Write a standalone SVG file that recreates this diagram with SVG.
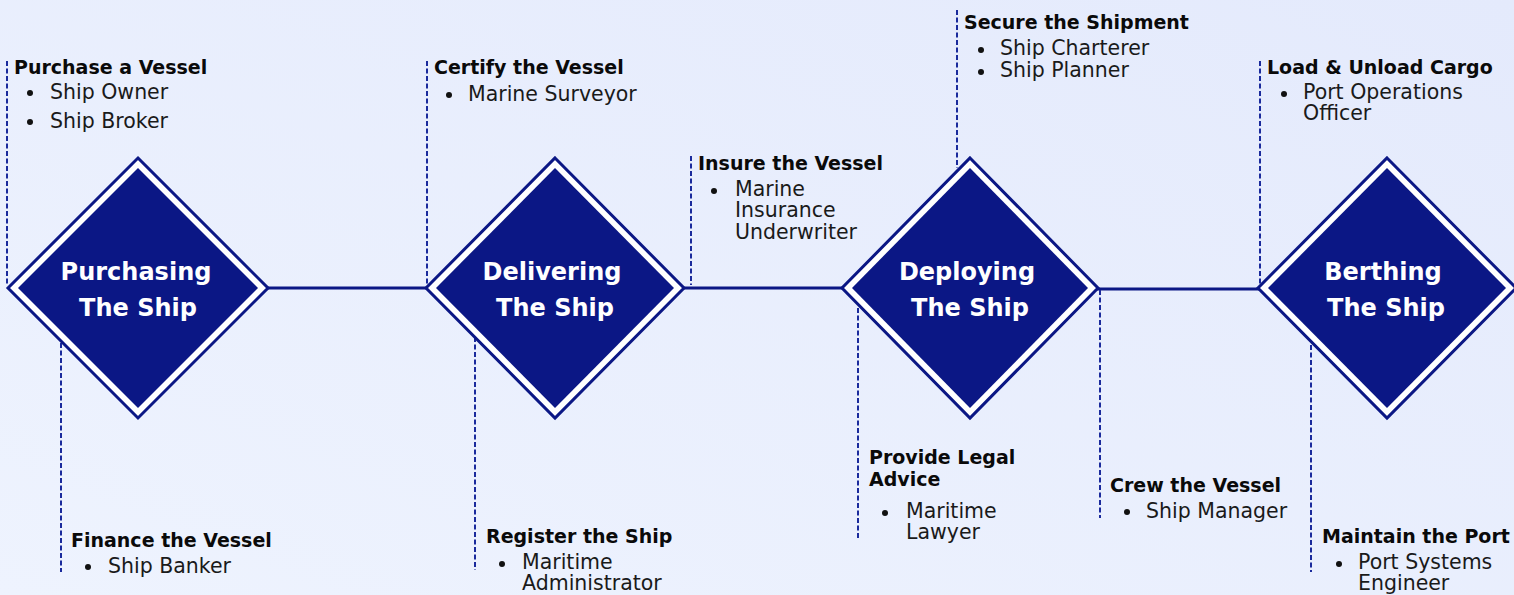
<svg xmlns="http://www.w3.org/2000/svg" width="1514" height="595" viewBox="0 0 1514 595">
<defs>
<linearGradient id="bg" x1="0" y1="1" x2="1" y2="0">
<stop offset="0" stop-color="#eef3fe"/>
<stop offset="1" stop-color="#e4eafc"/>
</linearGradient>
<style>
.outer{fill:#ffffff;stroke:#0b1785;stroke-width:3}
.inner{fill:#0b1785}
.lbl{font-family:"DejaVu Sans","Liberation Sans",sans-serif;font-weight:700;font-size:24px;fill:#ffffff;text-anchor:middle}
.h{font-family:"DejaVu Sans","Liberation Sans",sans-serif;font-weight:700;font-size:19px;fill:#0a0a0a}
.b{font-family:"DejaVu Sans","Liberation Sans",sans-serif;font-size:20.5px;fill:#1a1a1a}
.dash{stroke:#1a2a9c;stroke-width:2;stroke-dasharray:5 2.5;fill:none}
.link{stroke:#0b1785;stroke-width:3;fill:none}
.dot{fill:#111111}
</style>
</defs>
<rect width="1514" height="595" fill="url(#bg)"/>
<g id="connectors">
<line class="link" x1="266" y1="288" x2="428" y2="288"/>
<line class="link" x1="682" y1="288" x2="844" y2="288"/>
<line class="link" x1="1096" y1="289" x2="1259" y2="289"/>
<line class="dash" x1="7" y1="61" x2="7" y2="285"/>
<line class="dash" x1="61" y1="343" x2="61" y2="572"/>
<line class="dash" x1="427" y1="61" x2="427" y2="285"/>
<line class="dash" x1="475" y1="337" x2="475" y2="570"/>
<line class="dash" x1="691" y1="156" x2="691" y2="285"/>
<line class="dash" x1="858" y1="308" x2="858" y2="538"/>
<line class="dash" x1="957" y1="10" x2="957" y2="168"/>
<line class="dash" x1="1100" y1="290" x2="1100" y2="518"/>
<line class="dash" x1="1260" y1="61" x2="1260" y2="285"/>
<line class="dash" x1="1311" y1="345" x2="1311" y2="572"/>
</g>
<g id="purchasing">
<polygon class="outer" points="138,158 268,288 138,418 8,288"/>
<polygon class="inner" points="138,168 258,288 138,408 18,288"/>
<text class="lbl" x="136" y="280">Purchasing</text>
<text class="lbl" x="138" y="316">The Ship</text>
</g>
<g id="delivering">
<polygon class="outer" points="555,158 684,288 555,418 426,288"/>
<polygon class="inner" points="555,168 674,288 555,408 436,288"/>
<text class="lbl" x="552" y="280">Delivering</text>
<text class="lbl" x="555" y="316">The Ship</text>
</g>
<g id="deploying">
<polygon class="outer" points="970,158 1098,288 970,418 842,288"/>
<polygon class="inner" points="970,168 1088,288 970,408 852,288"/>
<text class="lbl" x="967" y="280">Deploying</text>
<text class="lbl" x="970" y="316">The Ship</text>
</g>
<g id="berthing">
<polygon class="outer" points="1387,158 1516,288 1387,418 1258,288"/>
<polygon class="inner" points="1387,168 1506,288 1387,408 1268,288"/>
<text class="lbl" x="1383" y="280">Berthing</text>
<text class="lbl" x="1386" y="316">The Ship</text>
</g>
<g id="purchase-vessel">
<text class="h" x="14" y="74">Purchase a Vessel</text>
<circle class="dot" cx="30" cy="93" r="3"/>
<text class="b" x="50" y="99">Ship Owner</text>
<circle class="dot" cx="30" cy="122" r="3"/>
<text class="b" x="50" y="128">Ship Broker</text>
</g>
<g id="finance-vessel">
<text class="h" x="71" y="547">Finance the Vessel</text>
<circle class="dot" cx="88" cy="567" r="3"/>
<text class="b" x="108" y="573">Ship Banker</text>
</g>
<g id="certify-vessel">
<text class="h" x="434" y="74">Certify the Vessel</text>
<circle class="dot" cx="449" cy="95" r="3"/>
<text class="b" x="468" y="101">Marine Surveyor</text>
</g>
<g id="register-ship">
<text class="h" x="486" y="543">Register the Ship</text>
<circle class="dot" cx="502" cy="564" r="3"/>
<text class="b" x="522" y="569">Maritime</text>
<text class="b" x="522" y="590">Administrator</text>
</g>
<g id="insure-vessel">
<text class="h" x="698" y="170">Insure the Vessel</text>
<circle class="dot" cx="714" cy="191" r="3"/>
<text class="b" x="735" y="196">Marine</text>
<text class="b" x="735" y="217">Insurance</text>
<text class="b" x="735" y="239">Underwriter</text>
</g>
<g id="legal-advice">
<text class="h" x="869" y="464">Provide Legal</text>
<text class="h" x="869" y="486">Advice</text>
<circle class="dot" cx="885" cy="513" r="3"/>
<text class="b" x="906" y="518">Maritime</text>
<text class="b" x="906" y="539">Lawyer</text>
</g>
<g id="secure-shipment">
<text class="h" x="964" y="29">Secure the Shipment</text>
<circle class="dot" cx="981" cy="50" r="3"/>
<text class="b" x="1000" y="55">Ship Charterer</text>
<circle class="dot" cx="981" cy="72" r="3"/>
<text class="b" x="1000" y="77">Ship Planner</text>
</g>
<g id="crew-vessel">
<text class="h" x="1110" y="492">Crew the Vessel</text>
<circle class="dot" cx="1127" cy="512" r="3"/>
<text class="b" x="1146" y="518">Ship Manager</text>
</g>
<g id="load-cargo">
<text class="h" x="1267" y="74">Load &amp; Unload Cargo</text>
<circle class="dot" cx="1284" cy="94" r="3"/>
<text class="b" x="1303" y="99">Port Operations</text>
<text class="b" x="1303" y="120">Officer</text>
</g>
<g id="maintain-port">
<text class="h" x="1322" y="543">Maintain the Port</text>
<circle class="dot" cx="1339" cy="564" r="3"/>
<text class="b" x="1358" y="569">Port Systems</text>
<text class="b" x="1358" y="590">Engineer</text>
</g>
</svg>
